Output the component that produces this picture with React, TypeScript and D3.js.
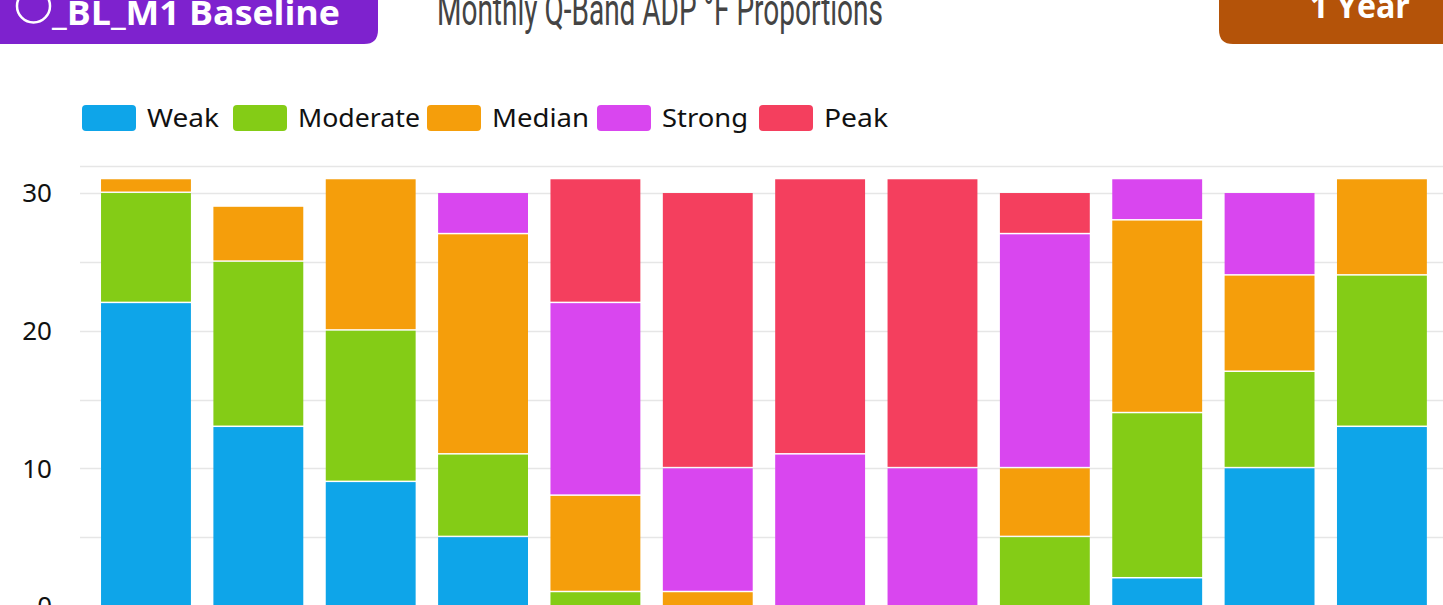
import React, { useRef, useEffect } from "react";
import * as d3 from "d3";

const months = ["Jan", "Feb", "Mar", "Apr", "May", "Jun", "Jul", "Aug", "Sep", "Oct", "Nov", "Dec"];
const seriesNames = ["Weak", "Moderate", "Median", "Strong", "Peak"];
const weak = [22, 13, 9, 5, 0, 0, 0, 0, 0, 2, 10, 13];
const moderate = [8, 12, 11, 6, 1, 0, 0, 0, 5, 12, 7, 11];
const median = [1, 4, 11, 16, 7, 1, 0, 0, 5, 14, 7, 7];
const strong = [0, 0, 0, 3, 14, 9, 11, 10, 17, 3, 6, 0];
const peak = [0, 0, 0, 0, 9, 20, 20, 21, 3, 0, 0, 0];
const yTicks = [0, 10, 20, 30];
const gridTicks = [0, 5, 10, 15, 20, 25, 30, 32];

const colors = ["#0EA5E9", "#84CC16", "#F59E0B", "#D946EF", "#F43F5E"];

const App = () => {
  const svgRef = useRef<SVGSVGElement>(null);
  const width = 1443;
  const height = 605;

  useEffect(() => {
    const svg = d3.select(svgRef.current);
    svg.selectAll("*").remove();

    const rows = months.map((m, i) => ({
      month: m,
      Weak: weak[i],
      Moderate: moderate[i],
      Median: median[i],
      Strong: strong[i],
      Peak: peak[i],
    }));

    const x = d3.scaleBand().domain(months).range([89.8, 1438.1]).paddingInner(0.2).paddingOuter(0.1);
    const y = d3.scaleLinear().domain([0, 32]).range([606, 165.5]);

    // grid
    svg
      .append("g")
      .selectAll("line")
      .data(gridTicks)
      .join("line")
      .attr("x1", 80)
      .attr("x2", width)
      .attr("y1", (d) => Math.round(y(d)) + 0.5)
      .attr("y2", (d) => Math.round(y(d)) + 0.5)
      .attr("stroke", "#e6e6e6")
      .attr("stroke-width", 1.5);

    // y labels
    svg
      .append("g")
      .selectAll("text")
      .data(yTicks)
      .join("text")
      .attr("x", 52)
      .attr("y", (d) => y(d))
      .attr("dy", "0.36em")
      .attr("text-anchor", "end")
      .attr("font-family", "'Noto Sans', sans-serif")
      .attr("font-size", 26)
      .attr("fill", "#111")
      .text((d) => d);

    // stacked bars
    const stack = d3.stack<any>().keys(seriesNames)(rows);
    stack.forEach((layer, li) => {
      svg
        .append("g")
        .selectAll("rect")
        .data(layer.filter((d) => d[1] - d[0] > 0))
        .join("rect")
        .attr("x", (d) => x(d.data.month)!)
        .attr("width", x.bandwidth())
        .attr("y", (d) => y(d[1]))
        .attr("height", (d) => Math.max(0, y(d[0]) - y(d[1]) - (d[0] > 0 ? 1.5 : 0)))
        .attr("fill", colors[li]);
    });

    // x labels sit below the visible area, like in the cropped original
    svg
      .append("g")
      .selectAll("text")
      .data(months)
      .join("text")
      .attr("x", (d) => x(d)! + x.bandwidth() / 2)
      .attr("y", 640)
      .attr("text-anchor", "middle")
      .attr("font-family", "'Noto Sans', sans-serif")
      .attr("font-size", 22)
      .attr("fill", "#111")
      .text((d) => d);

    // legend
    const legendX = [82, 233, 427, 597, 759];
    const legendW = [72, 122, 97, 86, 64];
    const lg = svg.append("g");
    seriesNames.forEach((name, i) => {
      lg.append("rect")
        .attr("x", legendX[i])
        .attr("y", 105)
        .attr("width", 54)
        .attr("height", 26)
        .attr("rx", 4)
        .attr("fill", colors[i]);
      lg.append("text")
        .attr("x", legendX[i] + 65)
        .attr("y", 127)
        .attr("font-family", "'Noto Sans', sans-serif")
        .attr("font-size", 25)
        .attr("fill", "#111")
        .attr("textLength", legendW[i])
        .attr("lengthAdjust", "spacingAndGlyphs")
        .text(name);
    });

    // left badge
    svg
      .append("path")
      .attr("d", "M0,-20 H378 V30 Q378,44 364,44 H0 Z")
      .attr("fill", "#7E22CE");
    svg
      .append("circle")
      .attr("cx", 33.5)
      .attr("cy", 6)
      .attr("r", 16.5)
      .attr("fill", "none")
      .attr("stroke", "#fff")
      .attr("stroke-width", 2.5);
    svg
      .append("text")
      .attr("x", 52)
      .attr("y", 25)
      .attr("font-family", "'Open Sans', sans-serif")
      .attr("font-weight", 700)
      .attr("font-size", 34)
      .attr("fill", "#fff")
      .attr("textLength", 288)
      .attr("lengthAdjust", "spacingAndGlyphs")
      .text("_BL_M1 Baseline");

    // right badge
    svg
      .append("path")
      .attr("d", `M1219,-20 H${width} V44 H1233 Q1219,44 1219,30 Z`)
      .attr("fill", "#B45309");
    svg
      .append("text")
      .attr("x", 1310)
      .attr("y", 18)
      .attr("font-family", "'Open Sans', sans-serif")
      .attr("font-weight", 700)
      .attr("font-size", 34)
      .attr("fill", "#fff")
      .attr("textLength", 100)
      .attr("lengthAdjust", "spacingAndGlyphs")
      .text("1 Year");

    // title
    svg
      .append("text")
      .attr("x", 437)
      .attr("y", 25)
      .attr("font-family", "Roboto, sans-serif")
      .attr("font-size", 44)
      .attr("fill", "#444")
      .attr("textLength", 446)
      .attr("lengthAdjust", "spacingAndGlyphs")
      .text("Monthly Q-Band ADP °F Proportions");
  }, []);

  return (
    <div style={{ position: "absolute", left: 0, top: 0 }}>
      <svg ref={svgRef} width={width} height={height} style={{ display: "block" }} />
    </div>
  );
};

export default App;
